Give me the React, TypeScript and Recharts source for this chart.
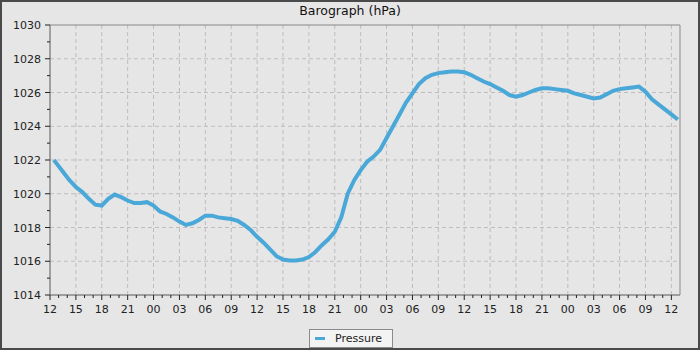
import {
  LineChart,
  Line,
  XAxis,
  YAxis,
  CartesianGrid,
  Legend,
  ReferenceArea,
} from "recharts";

// hours since the first 12:00 tick, and pressure readings (hPa)
const hours = [
  0.45, 0.75, 1.5, 2.25, 3, 3.75, 4.5, 5.25, 6, 6.75, 7.5, 8.25, 9, 9.75, 10.5,
  11.25, 12, 12.75, 13.5, 14.25, 15, 15.75, 16.5, 17.25, 18, 18.75, 19.5,
  20.25, 21, 21.75, 22.5, 23.25, 24, 24.75, 25.5, 26.25, 27, 27.75, 28.5,
  29.25, 30, 30.75, 31.5, 32.25, 33, 33.75, 34.5, 35.25, 36, 36.75, 37.5,
  38.25, 39, 39.75, 40.5, 41.25, 42, 42.75, 43.5, 44.25, 45, 45.75, 46.5,
  47.25, 48, 48.75, 49.5, 50.25, 51, 51.75, 52.5, 53.25, 54, 54.75, 55.5,
  56.25, 57, 57.75, 58.5, 59.25, 60, 60.75, 61.5, 62.25, 63, 63.75, 64.5,
  65.25, 66, 66.75, 67.5, 68.25, 69, 69.75, 70.5, 71.25, 72, 72.75,
];

const pressure = [
  1022.0, 1021.8, 1021.3, 1020.8, 1020.4, 1020.1, 1019.7, 1019.35, 1019.3,
  1019.7, 1019.95, 1019.8, 1019.6, 1019.45, 1019.45, 1019.5, 1019.3, 1018.95,
  1018.8, 1018.6, 1018.35, 1018.15, 1018.25, 1018.45, 1018.7, 1018.7, 1018.6,
  1018.55, 1018.5, 1018.4, 1018.15, 1017.85, 1017.45, 1017.1, 1016.7, 1016.3,
  1016.1, 1016.05, 1016.05, 1016.1, 1016.25, 1016.55, 1016.95, 1017.3,
  1017.75, 1018.6, 1020.0, 1020.8, 1021.4, 1021.9, 1022.2, 1022.6, 1023.3,
  1024.0, 1024.7, 1025.4, 1025.95, 1026.5, 1026.85, 1027.05, 1027.15, 1027.2,
  1027.25, 1027.25, 1027.2, 1027.05, 1026.85, 1026.65, 1026.5, 1026.3, 1026.1,
  1025.85, 1025.75, 1025.85, 1026.0, 1026.15, 1026.25, 1026.25, 1026.2,
  1026.15, 1026.1, 1025.95, 1025.85, 1025.75, 1025.65, 1025.7, 1025.9, 1026.1,
  1026.2, 1026.25, 1026.3, 1026.35, 1026.05, 1025.6, 1025.3, 1025.0, 1024.7,
  1024.4,
];

const xTicks = Array.from({ length: 73 }, (_, i) => i);
const xGrid = Array.from({ length: 24 }, (_, i) => (i + 1) * 3);
const yTicks = Array.from({ length: 17 }, (_, i) => 1014 + i);
const yGrid = [1016, 1018, 1020, 1022, 1024, 1026, 1028];
const X_MAX = 73;

const data = hours.map((h, i) => ({ h, p: pressure[i] }));

const FONT = "'DejaVu Sans', sans-serif";
const BLUE = "#4aa8d9";

const hourLabel = (h: number) => String((12 + h) % 24).padStart(2, "0");

const XTick = (props: any) => {
  const { x, y, payload } = props;
  const major = payload.value % 3 === 0;
  return (
    <g>
      <line x1={x} x2={x} y1={y} y2={y + (major ? 5 : 3)} stroke="#222" />
      {major && (
        <text
          x={x}
          y={y + 18}
          textAnchor="middle"
          fontSize={11}
          fontFamily={FONT}
          fill="#222"
        >
          {hourLabel(payload.value)}
        </text>
      )}
    </g>
  );
};

const YTick = (props: any) => {
  const { x, y, payload } = props;
  const major = payload.value % 2 === 0;
  return (
    <g>
      <line x1={x - (major ? 5 : 3)} x2={x} y1={y} y2={y} stroke="#222" />
      {major && (
        <text
          x={x - 9}
          y={y + 4}
          textAnchor="end"
          fontSize={11}
          fontFamily={FONT}
          fill="#222"
        >
          {payload.value}
        </text>
      )}
    </g>
  );
};

const LegendBox = () => (
  <div
    style={{
      boxSizing: "border-box",
      width: 84,
      height: 19,
      border: "1px solid #8a8a8a",
      background: "#f3f3f3",
      display: "flex",
      alignItems: "center",
      fontFamily: FONT,
      fontSize: 11,
      color: "#222",
    }}
  >
    <span
      style={{
        display: "inline-block",
        width: 10,
        height: 3,
        background: BLUE,
        marginLeft: 5,
        marginRight: 10,
      }}
    />
    Pressure
  </div>
);

export default function App() {
  return (
    <div
      style={{
        position: "absolute",
        left: 0,
        top: 0,
        width: 700,
        height: 350,
        background: "#e6e6e6",
      }}
    >
      <div
        style={{
          position: "absolute",
          left: 0,
          top: 3,
          width: 700,
          textAlign: "center",
          fontFamily: FONT,
          fontSize: 12.5,
          color: "#111",
        }}
      >
        Barograph (hPa)
      </div>
      <LineChart
        width={700}
        height={350}
        data={data}
        margin={{ top: 25, right: 20, bottom: 0, left: 0 }}
      >
        <CartesianGrid
          stroke="#bdbdbd"
          strokeDasharray="4 3"
          horizontalValues={yGrid}
          verticalValues={xGrid}
        />
        <XAxis
          dataKey="h"
          type="number"
          domain={[0, X_MAX]}
          ticks={xTicks}
          interval={0}
          height={55}
          tickSize={0}
          tickMargin={0}
          tickLine={false}
          axisLine={{ stroke: "#888" }}
          tick={<XTick />}
        />
        <YAxis
          type="number"
          domain={[1014, 1030]}
          ticks={yTicks}
          interval={0}
          width={50}
          tickSize={0}
          tickMargin={0}
          tickLine={false}
          axisLine={{ stroke: "#888" }}
          tick={<YTick />}
        />
        <ReferenceArea
          x1={0}
          x2={X_MAX}
          y1={1014}
          y2={1030}
          fill="none"
          stroke="#888"
        />
        <Line
          dataKey="p"
          name="Pressure"
          stroke={BLUE}
          strokeWidth={4}
          dot={false}
          isAnimationActive={false}
        />
        <Legend
          layout="horizontal"
          verticalAlign="middle"
          align="center"
          content={<LegendBox />}
          wrapperStyle={{ left: 309, top: 329, width: 84, height: 19 }}
        />
      </LineChart>
      <div
        style={{
          position: "absolute",
          left: 0,
          top: 0,
          width: 700,
          height: 350,
          boxSizing: "border-box",
          border: "2px solid #4a4a4a",
          pointerEvents: "none",
        }}
      />
    </div>
  );
}
